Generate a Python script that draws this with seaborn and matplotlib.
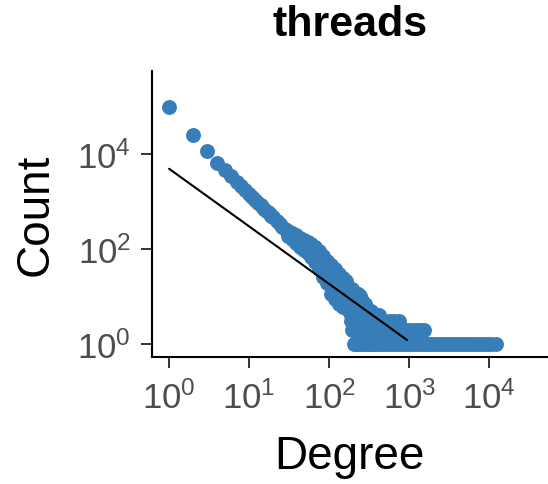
import pandas as pd
import seaborn as sns
import matplotlib.pyplot as plt

# degree distribution (head of the curve)
head_deg = [1, 2, 3, 4, 5, 6, 7, 8, 9, 10, 11, 12, 13, 14, 15, 16, 17, 18, 19, 20,
            22, 24, 26, 28]
head_cnt = [95000, 25000, 11500, 6500, 4480, 3350, 2570, 2080, 1700, 1440, 1225,
            1055, 935, 820, 738, 660, 598, 545, 494, 458, 388, 340, 294, 262]

# middle part, where the counts start to spread (a few values per degree)
mid_cols = {
    31: [240, 212, 185],
    34: [215, 185, 158],
    38: [192, 162, 135],
    43: [172, 140, 112],
    48: [155, 122, 95],
    54: [138, 104, 80],
    60: [124, 90, 66],
    67: [108, 78, 54],
    75: [92, 66, 48, 37],
    84: [72, 52, 36, 26],
    94: [56, 40, 28, 19],
    105: [46, 33, 23, 16, 11],
    118: [38, 27, 19, 13, 9],
    132: [30, 22, 16, 11, 7],
    148: [24, 18, 13, 9, 6],
    160: [21, 15, 11, 8, 6],
}

# tail, degrees grouped by their (small) count
tail_rows = {
    1: [205, 220, 240, 260, 285, 310, 340, 370, 400, 440, 480, 530, 590, 650, 720,
        800, 880, 970, 1070, 1180, 1300, 1450, 1600, 1770, 1950, 2150, 2400, 2650,
        2950, 3250, 3600, 4000, 4400, 4900, 5400, 6000, 6700, 7400, 8300, 9300,
        10500, 12300],
    2: [192, 205, 220, 240, 260, 285, 310, 340, 375, 415, 460, 510, 570, 640, 720,
        810, 910, 1020, 1150, 1300, 1450, 1550],
    3: [190, 205, 222, 242, 265, 290, 320, 355, 395, 440, 500, 570, 650, 750],
    4: [185, 200, 218, 238, 260, 285, 315, 350, 385, 420],
    5: [175, 190, 208, 228, 250, 275, 300, 330],
    6: [170, 185, 200, 218, 240, 265, 290],
    7: [168, 182, 198, 215, 235, 260, 280],
    8: [168, 180, 195, 212, 232, 255],
    9: [178, 192, 210, 230, 250],
    10: [176, 190, 208, 228, 245],
    11: [175, 195, 215, 230],
    12: [172, 193, 215],
    13: [170, 190],
    14: [170, 195],
}

# fitted power law line
fit_deg = [1, 944]
fit_cnt = [4850, 1.2]

deg = list(head_deg)
cnt = list(head_cnt)
for k, vals in mid_cols.items():
    deg += [k] * len(vals)
    cnt += vals
for c, ks in tail_rows.items():
    deg += ks
    cnt += [c] * len(ks)
df = pd.DataFrame({'Degree': deg, 'Count': cnt})
fit = pd.DataFrame({'Degree': fit_deg, 'Count': fit_cnt})

sns.set_style("ticks")
plt.rcParams['font.family'] = ['Liberation Sans', 'DejaVu Sans']

fig = plt.figure(figsize=(5.48, 4.85), dpi=100)
ax = fig.add_axes([0.277, 0.262, 0.723, 0.590])
sns.scatterplot(data=df, x='Degree', y='Count', ax=ax, color='#377EB8',
                s=115, linewidth=0, alpha=1)
sns.lineplot(data=fit, x='Degree', y='Count', ax=ax, color='black', linewidth=1.5)
ax.set_xscale('log')
ax.set_yscale('log')
ax.set_xlim(0.608, 54200)
ax.set_ylim(0.532, 5.6e5)
ax.set_xticks([1, 10, 100, 1000, 10000])
ax.set_yticks([1, 100, 10000])
ax.minorticks_off()
ax.set_xticklabels(['$\\mathregular{10^{%d}}$' % i for i in range(5)])
ax.set_yticklabels(['$\\mathregular{10^{%d}}$' % i for i in (0, 2, 4)])
ax.tick_params(labelsize=25, colors='#333333', labelcolor='#4D4D4D',
               length=8, width=1.4)
ax.tick_params(axis='x', pad=9)
ax.tick_params(axis='y', pad=7)
for side in ['top', 'right']:
    ax.spines[side].set_visible(False)
for side in ['left', 'bottom']:
    ax.spines[side].set_linewidth(1.5)
    ax.spines[side].set_color('black')
ax.set_xlabel('Degree', fontsize=33, labelpad=14, color='black')
ax.set_ylabel('Count', fontsize=33, labelpad=14, color='black')
ax.set_title('threads', fontsize=31, fontweight='bold', pad=26, color='black')

plt.savefig('out.png', dpi=100)
